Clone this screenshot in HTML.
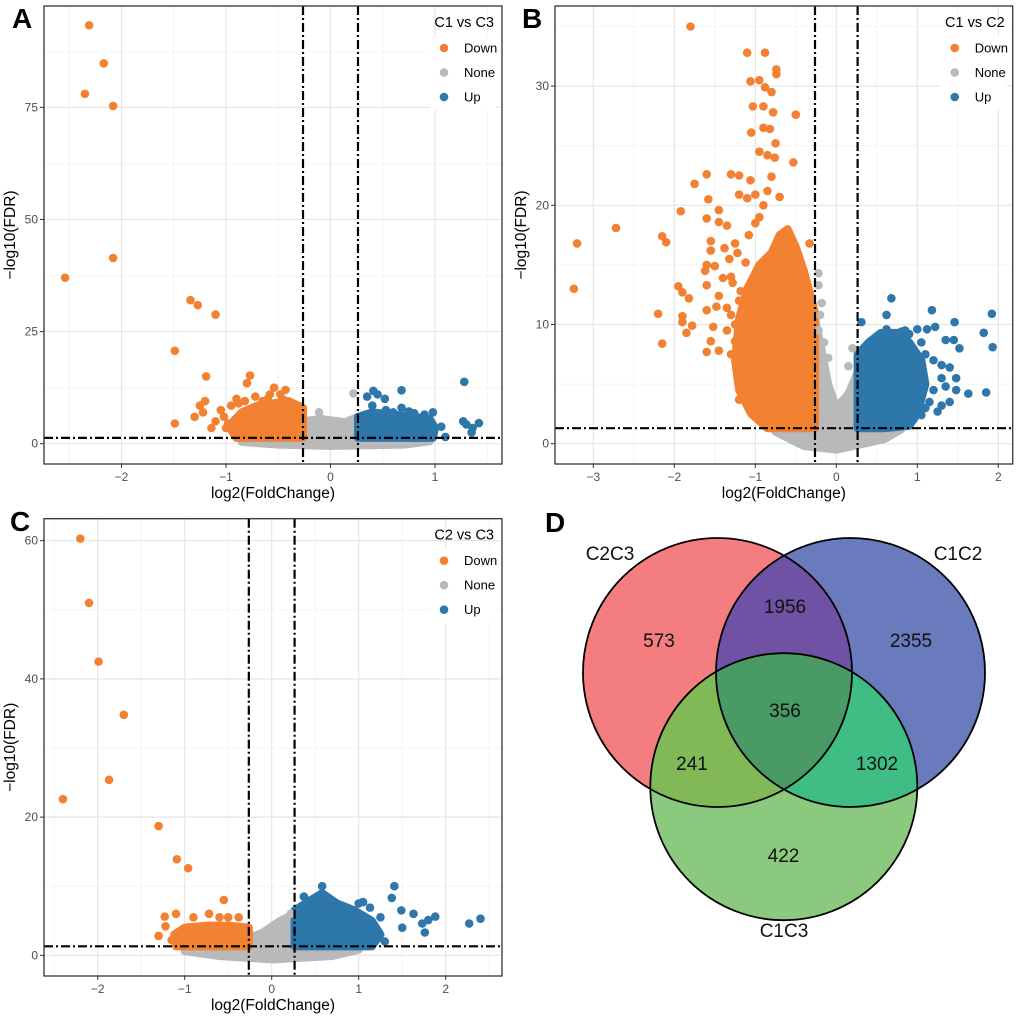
<!DOCTYPE html>
<html><head><meta charset="utf-8"><title>Volcano plots and Venn diagram</title>
<style>
html,body{margin:0;padding:0;background:#fff;}
svg{display:block;font-family:"Liberation Sans",Arial,sans-serif;}
.tick{font-size:12px;fill:#4d4d4d;}
.atitle{font-size:15.5px;fill:#000;}
.letter{font-size:28px;font-weight:bold;fill:#000;}
.leg{font-size:13px;fill:#000;}
.legt{font-size:14.5px;fill:#000;}
.venn{font-size:19px;fill:#111;}
</style></head>
<body>
<svg id="fig" width="1020" height="1018" viewBox="0 0 1020 1018" xmlns="http://www.w3.org/2000/svg"></svg>
<script>
// ---------- Panel A data (C1 vs C3) ----------
const aDownX=[-2.31,-2.17,-2.35,-2.08,-2.08,-2.54,-1.34,-1.27,-1.1,-1.49,-1.19,-1.49,-0.77,-0.8,-0.54,-0.43,-0.9,-0.72,-1.2,-1.25,-1.05,-1.1,-1.3,-1.0,-1.22,-1.14,-0.58,-0.48,-0.82,-0.95,-0.88,-0.65,-0.6,-0.45,-1.02,-0.98];
const aDownY=[93.3,84.8,78,75.3,41.4,37,32,30.9,28.8,20.7,15,4.5,15.2,13.5,12.5,12,10,10.5,9.5,8.5,7.5,5,6,3.5,7,3.5,11,11,9.5,8.5,9,9.5,10,9.8,6,4.5];
const aUpX=[1.28,0.68,0.41,0.35,0.52,0.45,1.42,1.3,1.35,1.06,1.1,1.27,1.36,0.53,0.68,0.98,0.4,0.6,0.8,0.9,0.75];
const aUpY=[13.8,11.9,11.8,10.5,10,11,4.6,4.3,2.5,3.8,1.5,5,3.5,7.5,8,7,8.5,7,6.8,6.5,7.2];
const aNoneX=[0.22,-0.11,-0.08,0.18];
const aNoneY=[11.2,7,5.5,5.2];
const aDownCloud=[[-0.263,1.3],[-0.263,8],[-0.4,9.5],[-0.55,9],[-0.7,8.5],[-0.85,7],[-0.93,5],[-0.95,3],[-0.9,1.3]];
const aUpCloud=[[0.263,1.3],[0.263,6],[0.4,7],[0.6,6.5],[0.8,6],[0.95,5.5],[1.0,3.5],[0.98,1.3]];
const aNoneCloud=[[-0.85,0.4],[-0.263,1.3],[-0.263,5],[-0.1,5.5],[0.15,4.8],[0.263,6],[0.263,1.3],[0.95,0.5],[0.7,-0.2],[0,-0.5],[-0.5,-0.2]];
// ---------- Panel B data (C1 vs C2) ----------
const bDownX=[-1.8,-1.1,-0.88,-0.74,-0.74,-1.06,-0.95,-0.88,-0.8,-1.03,-0.9,-0.78,-0.5,-1.05,-0.9,-0.82,-0.75,-0.95,-0.85,-0.76,-0.53,-1.3,-1.2,-1.6,-1.75,-1.06,-0.8,-0.85,-1.0,-1.2,-1.58,-1.1,-0.7,-0.9,-1.92,-1.45,-1.6,-1.45,-1.35,-2.72,-2.15,-3.2,-2.1,-1.55,-1.25,-1.38,-1.55,-0.33,-1.6,-1.5,-1.62,-1.6,-1.4,-1.95,-1.9,-3.24,-1.82,-1.45,-1.6,-1.48,-1.35,-2.2,-1.9,-1.9,-1.85,-1.78,-2.15,-1.52,-1.55,-1.6,-1.45,-1.25,-1.3,-1.15,-1.1,-1.0,-1.2,-1.17,-0.97,-0.95,-0.8,-1.3,-1.2,-1.25,-1.15,-1.05,-1.32,-1.28,-1.22,-1.12,-1.18,-1.08,-1.3,-1.35,-1.0,-0.95];
const bDownY=[35,32.8,32.8,31.4,31,30.4,30.5,29.9,29.5,28.3,28.3,27.8,27.6,26.1,26.5,26.4,25.2,24.5,24.2,24,23.6,22.6,22.5,22.6,21.8,22.1,22.4,21.2,20.9,20.9,20.5,20.6,20.7,20,19.5,19.6,18.9,18.6,18.3,18.1,17.4,16.8,16.9,17,16.8,16.4,16.2,16.8,15,14.9,14.5,13.3,13.9,13.2,12.7,13,12.2,12.4,11.2,11.5,11.4,10.9,10.7,10.2,9.3,9.9,8.4,9.8,8.6,7.7,7.8,8.6,7.5,7.6,6.2,5,3.7,3.7,2.2,2.2,2.2,14,12,10,9,11,15.5,13.5,16,15.2,12.8,17.5,10.8,9.5,18.5,19];
const bUpX=[0.68,1.18,1.92,0.31,0.62,1.46,0.62,0.85,1.0,1.12,1.22,1.82,1.35,1.45,1.52,1.93,1.2,1.3,1.4,1.3,1.48,1.35,1.48,1.63,1.85,1.2,1.15,1.3,1.4,1.25,1.05,1.1,1.0,1.05,1.1,0.9,0.8];
const bUpY=[12.2,11.2,10.9,10.2,10.8,10.2,9.6,9.5,9.6,9.6,9.8,9.3,8.7,8.7,8,8.1,7,6.6,6.4,5.5,5.5,4.8,4.5,4.2,4.3,4.5,3.5,3.2,3.5,2.7,2.4,3,3.8,8.5,7.5,9.2,9.4];
const bNoneX=[-0.22,-0.22,-0.2,-0.22,-0.15,0.2,0.15,-0.18,-0.1];
const bNoneY=[14.3,13.3,10.8,9.5,8.5,8,6.5,11.8,7.2];
const bDownCloud=[[-0.263,1.3],[-0.263,11],[-0.4,14.5],[-0.5,16.5],[-0.6,18],[-0.7,17.5],[-0.8,16],[-0.95,15],[-1.1,13],[-1.2,10.5],[-1.25,7],[-1.2,4.5],[-1.05,2.5],[-0.85,1.3]];
const bUpCloud=[[0.263,1.3],[0.263,7.5],[0.4,8.5],[0.55,9.3],[0.75,9.3],[0.9,8.5],[1.05,7],[1.1,5],[1.0,2.5],[0.9,1.5],[0.6,1.3]];
const bNoneCloud=[[-0.75,1.0],[-0.263,1.3],[-0.263,10.5],[-0.2,8.5],[-0.1,5],[0,3],[0.15,4.2],[0.263,6],[0.263,1.3],[0.8,1.2],[0.6,0.4],[0,-0.5],[-0.4,-0.2]];
// ---------- Panel C data (C2 vs C3) ----------
const cDownX=[-2.2,-2.1,-1.99,-1.7,-1.87,-2.4,-1.3,-1.09,-0.96,-0.55,-1.23,-1.1,-1.3,-0.72,-0.5,-0.38,-1.22,-1.15,-0.9,-0.6];
const cDownY=[60.3,51,42.5,34.8,25.4,22.6,18.7,13.9,12.6,8,5.6,6,2.8,6,5.5,5.5,4.2,2.2,5.5,5.5];
const cUpX=[1.41,1.38,1.49,1.63,1.88,1.8,2.4,2.27,1.73,1.76,1.5,0.58,0.37,1.05,1.13,1.3,1.15,1.25,1.0,0.95];
const cUpY=[10,8.3,6.5,6,5.6,5.1,5.3,4.6,4.6,3.3,4,10,8.5,7.7,6.9,2,4.5,5.5,7.5,6.5];
const cNoneX=[0.22,0.1];
const cNoneY=[6,4.5];
const cDownCloud=[[-0.263,1.3],[-0.263,4],[-0.5,4.3],[-0.75,4.3],[-1.0,4],[-1.12,3],[-1.1,1.3]];
const cUpCloud=[[0.263,1.3],[0.263,6.5],[0.45,8],[0.58,9],[0.75,7.5],[0.95,6.5],[1.15,5],[1.25,3],[1.15,1.3]];
const cNoneCloud=[[-1.0,0.6],[-0.263,1.3],[-0.263,2.5],[-0.1,3.3],[0.1,5],[0.263,6],[0.263,1.3],[1.0,0.8],[0.7,-0.1],[0,-0.6],[-0.6,-0.1]];
// ---------- Venn data ----------
const vennSets=["C2C3","C1C2","C1C3"];
const vennCounts=[573,2355,422,1956,241,1302,356];

const NS="http://www.w3.org/2000/svg";
const svg=document.getElementById('fig');
const COL={down:"#f28131",none:"#b9b9ba",up:"#2e77ab"};
function mk(tag,attrs,parent){const e=document.createElementNS(NS,tag);for(const k in attrs)e.setAttribute(k,attrs[k]);(parent||svg).appendChild(e);return e;}

function panel(p){
  const g=mk('g',{});
  
  
  const sx=v=>p.x0+p.kx*v, sy=v=>p.y0-p.ky*v;
  const bg=mk('rect',{x:p.L,y:p.T,width:p.R-p.L,height:p.B-p.T,fill:'#fff'},g);
  
  
  p.minorX.forEach(v=>mk('line',{x1:sx(v),x2:sx(v),y1:p.T,y2:p.B,stroke:'#f2f2f2','stroke-width':0.8},g));
  p.minorY.forEach(v=>mk('line',{x1:p.L,x2:p.R,y1:sy(v),y2:sy(v),stroke:'#f2f2f2','stroke-width':0.8},g));
  p.xt.forEach(v=>mk('line',{x1:sx(v),x2:sx(v),y1:p.T,y2:p.B,stroke:'#e6e6e6','stroke-width':1.2},g));
  p.yt.forEach(v=>mk('line',{x1:p.L,x2:p.R,y1:sy(v),y2:sy(v),stroke:'#e6e6e6','stroke-width':1.2},g));
  const clouds=[[p.noneC,COL.none,'none-cloud'],[p.downC,COL.down,'down-cloud'],[p.upC,COL.up,'up-cloud']];
  clouds.forEach(c=>{
    const poly=mk('polygon',{points:c[0].map(q=>sx(q[0])+','+sy(q[1])).join(' '),fill:c[1],stroke:c[1],'stroke-width':8,'stroke-linejoin':'round'},g);
    
    
  });
  const sets=[[p.nx,p.ny,COL.none,'none-point'],[p.dx,p.dy,COL.down,'down-point'],[p.ux,p.uy,COL.up,'up-point']];
  sets.forEach(s=>s[0].forEach((v,i)=>{
    const c=mk('circle',{cx:sx(v),cy:sy(s[1][i]),r:4.3,fill:s[2]},g);
    
    
  }));
  [-0.263,0.263].forEach(v=>mk('line',{x1:sx(v),x2:sx(v),y1:p.T,y2:p.B,stroke:'#000','stroke-width':2.2,'stroke-dasharray':'9 3 2 3'},g));
  mk('line',{x1:p.L,x2:p.R,y1:sy(1.3),y2:sy(1.3),stroke:'#000','stroke-width':2.2,'stroke-dasharray':'9 3 2 3'},g);
  const lg=mk('g',{},g);
  
  
  const lx=p.R-72;
  mk('rect',{x:lx,y:p.T+30,width:66,height:74,fill:'#fff'},lg);
  const lt=mk('text',{x:p.R-8,y:p.T+21,'text-anchor':'end',class:'legt'},lg);lt.textContent=p.title;
  [['Down',COL.down],['None',COL.none],['Up',COL.up]].forEach((e,i)=>{
    const eg=mk('g',{},lg);
    
    
    mk('circle',{cx:lx+14,cy:p.T+42+i*24.5,r:4.3,fill:e[1]},eg);
    const t=mk('text',{x:lx+34,y:p.T+46.5+i*24.5,class:'leg'},eg);t.textContent=e[0];
  });
  mk('rect',{x:p.L,y:p.T,width:p.R-p.L,height:p.B-p.T,fill:'none',stroke:'#333','stroke-width':1.3},g);
  p.xt.forEach(v=>{
    mk('line',{x1:sx(v),x2:sx(v),y1:p.B,y2:p.B+4,stroke:'#333'},g);
    const t=mk('text',{x:sx(v),y:p.B+17,'text-anchor':'middle',class:'tick'},g);
    
    
    t.textContent=(v<0?'\u2212'+(-v):v);
  });
  p.yt.forEach(v=>{
    mk('line',{x1:p.L-4,x2:p.L,y1:sy(v),y2:sy(v),stroke:'#333'},g);
    const t=mk('text',{x:p.L-6,y:sy(v)+4,'text-anchor':'end',class:'tick'},g);
    
    
    t.textContent=v;
  });
  const xtl=mk('text',{x:(p.L+p.R)/2,y:p.B+34,'text-anchor':'middle',class:'atitle'},g);
  
  
  xtl.textContent='log2(FoldChange)';
  const cy=(p.T+p.B)/2, cx=p.L-29;
  const ytl=mk('text',{x:cx,y:cy,'text-anchor':'middle',class:'atitle',transform:'rotate(-90 '+cx+' '+cy+')'},g);
  
  
  ytl.textContent='\u2212log10(FDR)';
  const L=mk('text',{x:p.letterX,y:p.letterY,class:'letter'},g);
  
  
  L.textContent=p.id;
}

panel({id:'A',title:'C1 vs C3',L:44,R:502,T:6,B:464,x0:330.5,kx:104.5,y0:443.7,ky:4.485,letterX:12,letterY:28,
  xt:[-2,-1,0,1],minorX:[-2.5,-1.5,-0.5,0.5,1.5],yt:[0,25,50,75],minorY:[12.5,37.5,62.5,87.5],
  dx:aDownX,dy:aDownY,ux:aUpX,uy:aUpY,nx:aNoneX,ny:aNoneY,downC:aDownCloud,upC:aUpCloud,noneC:aNoneCloud});
panel({id:'B',title:'C1 vs C2',L:555,R:1012.7,T:6,B:464,x0:836.3,kx:81,y0:443.7,ky:11.92,letterX:522,letterY:28,
  xt:[-3,-2,-1,0,1,2],minorX:[-2.5,-1.5,-0.5,0.5,1.5],yt:[0,10,20,30],minorY:[5,15,25,35],
  dx:bDownX,dy:bDownY,ux:bUpX,uy:bUpY,nx:bNoneX,ny:bNoneY,downC:bDownCloud,upC:bUpCloud,noneC:bNoneCloud});
panel({id:'C',title:'C2 vs C3',L:44,R:502,T:518.7,B:976,x0:271.7,kx:87,y0:955.3,ky:6.91,letterX:10,letterY:531,
  xt:[-2,-1,0,1,2],minorX:[-2.5,-1.5,-0.5,0.5,1.5,2.5],yt:[0,20,40,60],minorY:[10,30,50],
  dx:cDownX,dy:cDownY,ux:cUpX,uy:cUpY,nx:cNoneX,ny:cNoneY,downC:cDownCloud,upC:cUpCloud,noneC:cNoneCloud});

// ---------- Venn ----------
(function(){
  const g=mk('g',{});
  
  
  const C=[{x:717.5,y:672.5,r:134.5,f:'#f47d80'},{x:850.5,y:672.5,r:134.5,f:'#6a7bbd'},{x:783.8,y:786.7,r:133.5,f:'#8bc97e'}];
  const defs=mk('defs',{},g);
  C.forEach((c,i)=>{const cp=mk('clipPath',{id:'cp'+i},defs);mk('circle',{cx:c.x,cy:c.y,r:c.r},cp);});
  C.forEach((c,i)=>{
    const e=mk('circle',{cx:c.x,cy:c.y,r:c.r,fill:c.f},g);
    
    
  });
  function inter(a,b,fill,name){
    const gg=mk('g',{'clip-path':'url(#cp'+a+')'},g);
    const e=mk('circle',{cx:C[b].x,cy:C[b].y,r:C[b].r,fill:fill},gg);
    
    
    return gg;
  }
  inter(0,1,'#6f52a3','venn-c2c3-c1c2');
  inter(0,2,'#80b956','venn-c2c3-c1c3');
  inter(1,2,'#3fbd85','venn-c1c2-c1c3');
  const g3=mk('g',{'clip-path':'url(#cp0)'},g);
  const g4=mk('g',{'clip-path':'url(#cp1)'},g3);
  const all=mk('circle',{cx:C[2].x,cy:C[2].y,r:C[2].r,fill:'#4a9a66'},g4);
  
  
  C.forEach(c=>mk('circle',{cx:c.x,cy:c.y,r:c.r,fill:'none',stroke:'#000','stroke-width':1.8},g));
  const pos=[[659,647],[911,647],[783.5,862],[785,613],[692,770],[877,770],[785,717]];
  vennCounts.forEach((v,i)=>{
    const t=mk('text',{x:pos[i][0],y:pos[i][1],'text-anchor':'middle',class:'venn'},g);
    
    
    t.textContent=v;
  });
  const lp=[[610,560],[958,560],[784,937]];
  vennSets.forEach((s,i)=>{
    const t=mk('text',{x:lp[i][0],y:lp[i][1],'text-anchor':'middle',class:'venn'},g);
    
    
    t.textContent=s;
  });
  const L=mk('text',{x:545,y:532,class:'letter'},g);
  
  
  L.textContent='D';
})();
</script>
</body></html>
